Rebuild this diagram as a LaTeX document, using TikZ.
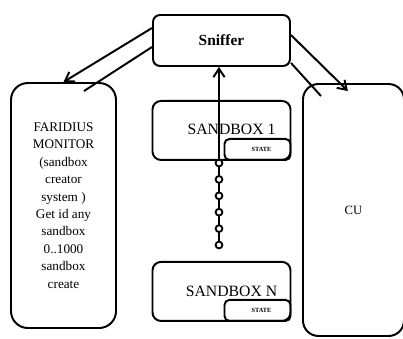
\documentclass[tikz,border=0pt]{standalone}
\usepackage{fontspec}
\setmainfont{Liberation Serif}
\usetikzlibrary{arrows.meta,positioning,calc}

\begin{document}
\begin{tikzpicture}[
  every node/.style={align=center},
  bigbox/.style={draw, line width=1.4pt, rounded corners=9pt},
  sbox/.style={draw, line width=1.4pt, rounded corners=6pt, minimum width=3.45cm, minimum height=1.475cm},
  statebox/.style={draw, line width=1.4pt, rounded corners=3.5pt, minimum width=1.65cm, minimum height=0.525cm,
    font=\fontsize{4.5}{5}\selectfont\bfseries},
  ring/.style={circle, draw, fill=white, line width=1.3pt, inner sep=0pt, minimum size=0.17cm},
  arrow/.style={-{Straight Barb[length=6pt,width=8pt]}, line width=1.4pt},
  link/.style={line width=1.4pt}
]
  \useasboundingbox (0,0) rectangle (10.075,-8.45);
  \clip (0,0) rectangle (10.075,-8.45);

  % Top: the sniffer
  \node[draw, line width=1.4pt, rounded corners=5pt, minimum width=3.425cm, minimum height=1.275cm,
    font=\fontsize{11}{13}\selectfont\bfseries] (sniffer) at (5.5375,-1.0125) {Sniffer};

  % Sandboxes
  \node[sbox, below=0.825cm of sniffer] (sb1) {};
  \node[statebox, anchor=south east] (st1) at (sb1.south east) {\hspace*{0.2cm}STATE};
  \node[font=\fontsize{11.2}{13}\selectfont] at ([xshift=0.25cm,yshift=0.03cm]sb1.center) {SANDBOX 1};

  \node[sbox, below=2.5cm of sb1] (sbn) {};
  \node[statebox, anchor=south east] (stn) at (sbn.south east) {\hspace*{0.2cm}STATE};
  \node[font=\fontsize{11.2}{13}\selectfont] at ([xshift=0.25cm,yshift=0cm]sbn.center) {SANDBOX N};

  % Chain between the sandboxes
  \foreach \i [evaluate=\i as \j using int(\i+1)] in {1,...,5} {
    \draw[line width=1.3pt] (5.475,{-4.075-0.41*(\i-1)}) -- (5.475,{-4.075-0.41*\i});
  }
  \foreach \i in {1,...,6} {
    \node[ring] (c\i) at (5.475,{-4.075-0.41*(\i-1)}) {};
  }

  % Side boxes
  \node[bigbox, rounded corners=12pt, minimum width=2.625cm, minimum height=6.125cm,
    font=\fontsize{9.4}{12.4}\selectfont] (monitor) at (1.5875,-5.1375)
    {FARIDIUS\\MONITOR\\(sandbox\\creator\\system )\\Get id any\\sandbox\\0..1000\\sandbox\\create};
  \node[bigbox, rounded corners=11pt, minimum width=2.525cm, minimum height=6.3cm,
    font=\fontsize{9}{11}\selectfont] (cu) at (8.8375,-5.25) {CU};

  % Connectors
  \draw[arrow] ([yshift=0.3125cm]sniffer.west) -- (monitor.north);
  \draw[link] ($(monitor.north east)+(-0.825,-0.225)$) -- ([yshift=-0.1625cm]sniffer.west);
  \draw[arrow] ([yshift=0.1375cm]sniffer.east) -- ([xshift=-0.14cm,yshift=-0.2cm]cu.north);
  \draw[link] ([yshift=0.1cm]sniffer.south east) -- ($(cu.north west)+(0.475,-0.325)$);
  \draw[arrow] (c1.north) -- (c1 |- sniffer.south);
\end{tikzpicture}
\end{document}
